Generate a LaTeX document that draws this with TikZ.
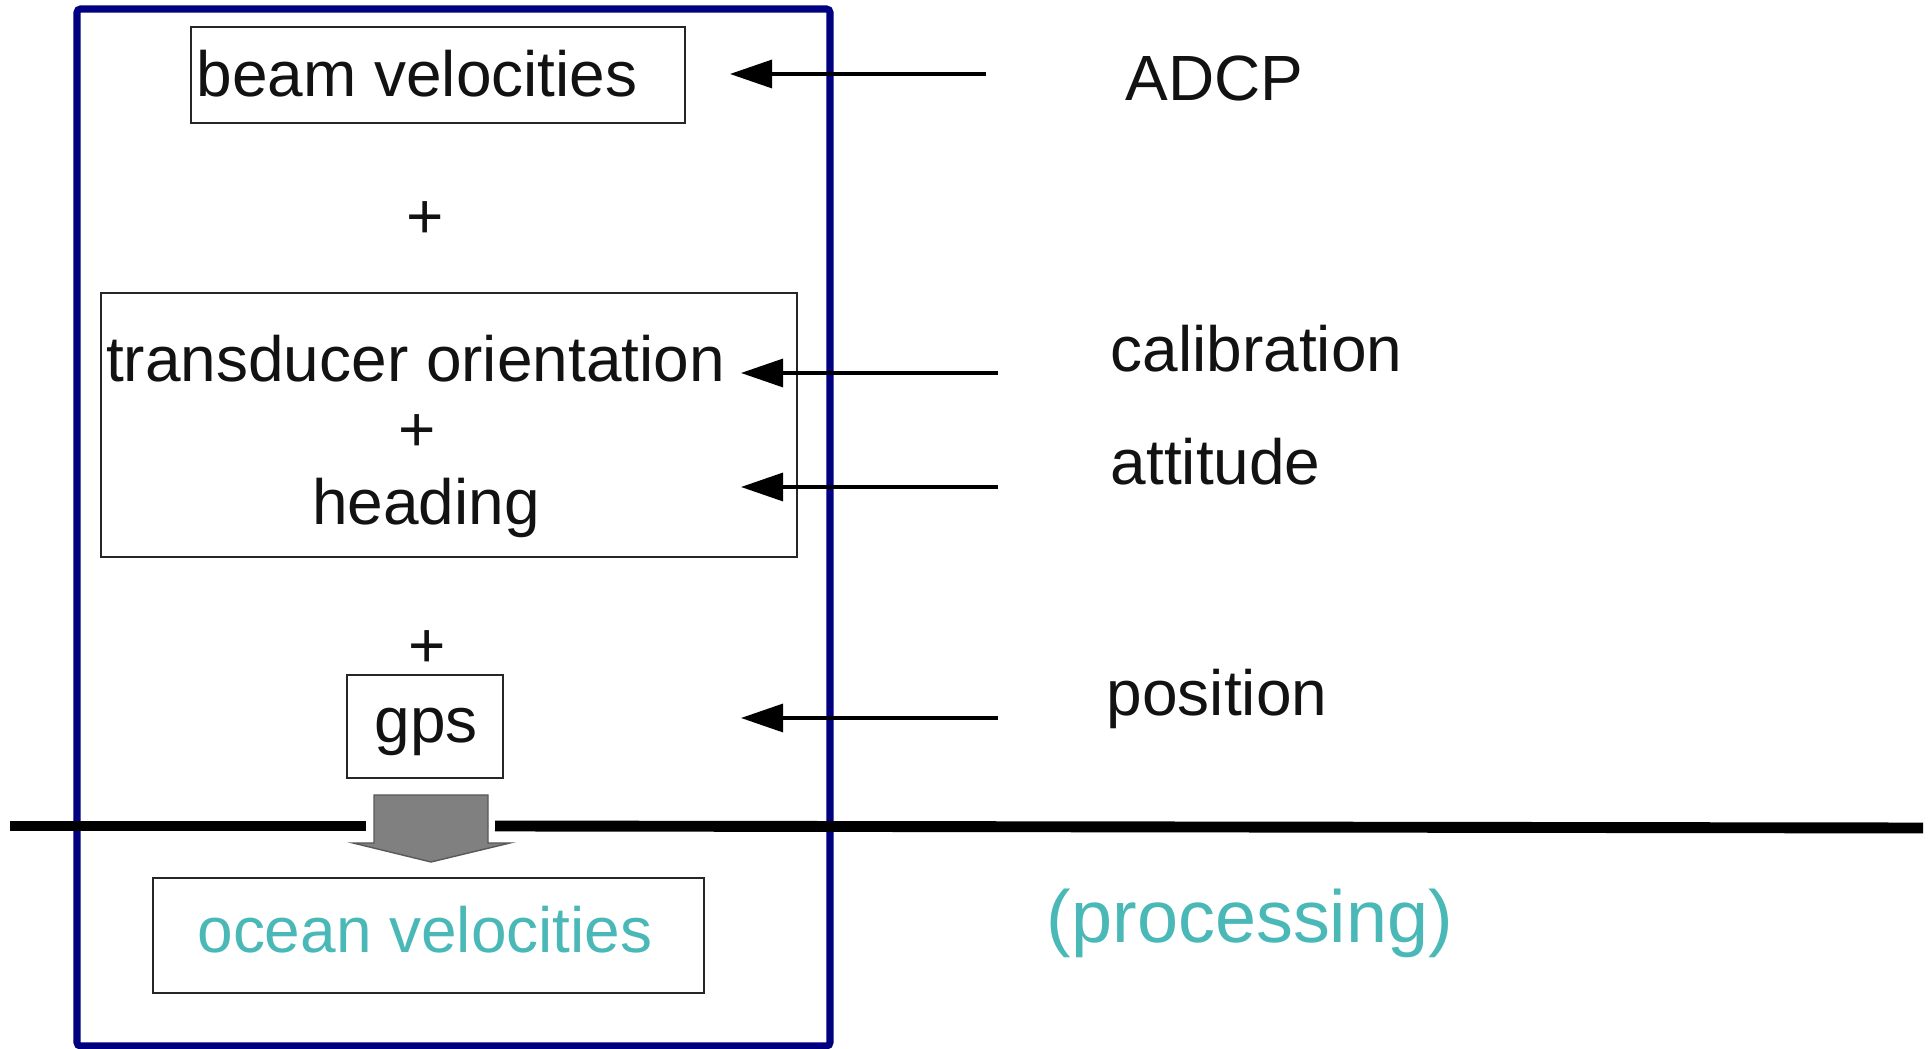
\documentclass[tikz,border=0pt]{standalone}
\usepackage{fontspec}
\setmainfont{Liberation Sans}
\usetikzlibrary{arrows.meta}
\definecolor{framenavy}{RGB}{0,0,128}
\definecolor{oceanteal}{RGB}{75,184,184}
\definecolor{arrowgray}{RGB}{128,128,128}
\tikzset{
  box/.style={draw=black!85,line width=0.5pt,inner sep=0pt},
  txt/.style={anchor=base,inner sep=0pt,text=black!93,font=\fontsize{18.2}{20.3}\selectfont},
  feed/.style={-{Triangle[length=0.42cm,width=0.28cm]},line width=0.9pt},
}
\begin{document}
\begin{tikzpicture}[y=-1cm]
        \useasboundingbox (0,0) rectangle (19.31,10.49);
        \draw[framenavy,line width=2pt,rounded corners=1pt](0.77,0.09)rectangle(8.30,10.46);

        \node[box,minimum width=4.94cm,minimum height=0.96cm](beambox)at(4.38,0.75){};
        \node[box,minimum width=6.96cm,minimum height=2.64cm](attbox)at(4.49,4.25){};
        \node[box,minimum width=1.56cm,minimum height=1.03cm](gpsbox)at(4.25,7.265){};
        \node[box,minimum width=5.51cm,minimum height=1.15cm](oceanbox)at(4.285,9.355){};

        \node[txt,anchor=base west](beam)at(1.96,0.97){beam velocities};
        \node[txt,anchor=center](plusa)at(4.25,2.20){+};
        \node[txt](orient)at(4.155,3.82){transducer orientation};
        \node[txt,anchor=center](plusb)at(4.17,4.33){+};
        \node[txt](heading)at(4.26,5.25){heading};
        \node[txt,anchor=center](plusc)at(4.27,6.49){+};
        \node[txt](gps)at(4.26,7.43){gps};
        \node[txt,text=oceanteal](ocean)at(4.25,9.53){ocean velocities};

        \node[txt,anchor=base west](adcp)at(11.25,1.01){ADCP};
        \node[txt,anchor=base west](calib)at(11.10,3.72){calibration};
        \node[txt,anchor=base west](attitude)at(11.10,4.85){attitude};
        \node[txt,anchor=base west](position)at(11.06,7.16){position};
        \node[txt,text=oceanteal,font=\fontsize{21}{24}\selectfont](proc)at(12.50,9.43){(processing)};

        \draw[line width=3.1pt](0.10,8.26)--(3.66,8.26);
        \draw[line width=3.1pt](4.95,8.26)--(19.23,8.28);

        \filldraw[fill=arrowgray,draw=black!65,line width=0.4pt](3.74,7.95)--(4.88,7.95)--(4.88,8.43)--(5.10,8.43)--(4.31,8.62)--(3.53,8.43)--(3.74,8.43)--cycle;

        \coordinate(adcptail)at(9.86,0.74);
        \coordinate(adcptip)at(7.30,0.74);
        \coordinate(calibtail)at(9.98,3.73);
        \coordinate(calibtip)at(7.41,3.73);
        \coordinate(atttail)at(9.98,4.87);
        \coordinate(atttip)at(7.41,4.87);
        \coordinate(postail)at(9.98,7.18);
        \coordinate(postip)at(7.41,7.18);

        \draw[feed](adcptail)--(adcptip);
        \draw[feed](calibtail)--(calibtip);
        \draw[feed](atttail)--(atttip);
        \draw[feed](postail)--(postip);
    \end{tikzpicture}
\end{document}
